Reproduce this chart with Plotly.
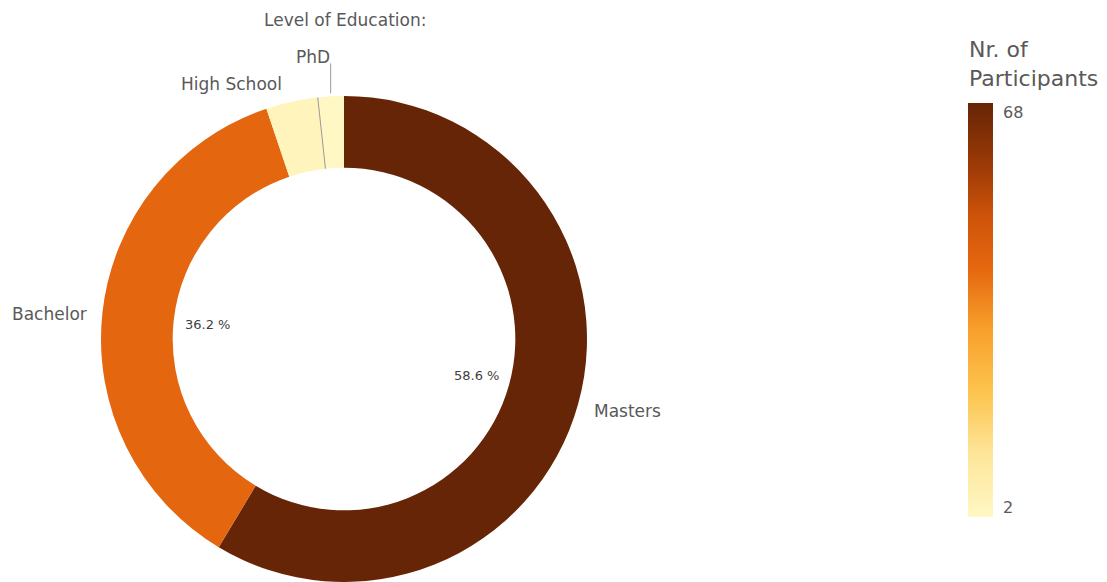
import math
import plotly.graph_objects as go
from plotly.colors import sample_colorscale

# Data
levels = ["Masters", "Bachelor", "High School", "PhD"]
participants = [68, 42, 4, 2]
pct_labelled = ["Masters", "Bachelor"]
legend_title = "Nr. of<br>Participants"
chart_title = "Level of Education:"

W, H = 1107, 582
CX, CY, R = 344, 339, 243          # donut centre / outer radius in pixels
HOLE = 0.705

CMIN, CMAX = min(participants), max(participants)
scale = [
    [0.00, "#fff7c4"], [0.15, "#fde69a"], [0.30, "#fdc44f"], [0.45, "#f8a12c"],
    [0.60, "#e5670f"], [0.72, "#d0550a"], [0.85, "#9c3a06"], [1.00, "#662506"],
]
slice_colors = sample_colorscale(scale, [(v - CMIN) / (CMAX - CMIN) for v in participants])

GREY = "#595959"
FONT = "DejaVu Sans"

total = sum(participants)


def px(x, y):
    return x / W, 1 - y / H


def polar(angle_deg, r):
    a = math.radians(angle_deg)
    return CX + r * math.sin(a), CY - r * math.cos(a)


# slice angles, clockwise from 12 o'clock
starts, mids, ends = [], [], []
acc = 0.0
for v in participants:
    s = acc / total * 360
    acc += v
    e = acc / total * 360
    starts.append(s); ends.append(e); mids.append((s + e) / 2)

fig = go.Figure()
fig.add_trace(go.Pie(
    labels=levels, values=participants, sort=False, direction="clockwise", rotation=0,
    hole=HOLE, textinfo="none", hoverinfo="label+value+percent",
    marker=dict(colors=slice_colors, line=dict(width=0)),
    domain=dict(x=[(CX - R) / W, (CX + R) / W], y=[0, 1 - (CY - R) / H]),
    showlegend=False,
))

# colour legend
fig.add_trace(go.Scatter(
    x=[None], y=[None], mode="markers", showlegend=False, hoverinfo="skip",
    marker=dict(color=[CMIN], cmin=CMIN, cmax=CMAX, colorscale=scale, showscale=True,
                colorbar=dict(x=968 / W, xanchor="left", y=1 - 310 / H, yanchor="middle",
                              lenmode="pixels", len=414, thickness=25, xpad=0, ypad=0,
                              outlinewidth=0, showticklabels=False, ticks="")),
))

annotations = []
shapes = []

for name, v, m in zip(levels, participants, mids):
    pct = v / total * 100
    if name in ("Masters", "Bachelor"):
        ox, oy = polar(m, R + 14)
        right = math.sin(math.radians(m)) > 0
        x, y = px(ox, oy + 3)
        annotations.append(dict(x=x, y=y, xref="paper", yref="paper", text=name, showarrow=False,
                                xanchor="left" if right else "right", yanchor="middle",
                                font=dict(family=FONT, size=17, color=GREY)))
    if name in pct_labelled:
        tx, ty = polar(m, 137)
        x, y = px(tx, ty)
        annotations.append(dict(x=x, y=y, xref="paper", yref="paper", text=f"{pct:.1f} %",
                                showarrow=False, xanchor="center", yanchor="middle",
                                font=dict(family=FONT, size=13, color="#404040")))

# small slices near the top: High School / PhD
hs, phd = levels.index("High School"), levels.index("PhD")
hx, hy = polar(mids[hs], R + 18)
x, y = px(hx - 4, hy)
annotations.append(dict(x=x, y=y, xref="paper", yref="paper", text=levels[hs], showarrow=False,
                        xanchor="right", yanchor="middle", font=dict(family=FONT, size=17, color=GREY)))

p0x, p0y = polar(mids[phd], R + 3)
p1x, p1y = polar(mids[phd], R + 33)
x0, y0 = px(p0x, p0y)
x1, y1 = px(p0x, p1y)
shapes.append(dict(type="line", xref="paper", yref="paper", x0=x0, y0=y0, x1=x1, y1=y1,
                   line=dict(color="#9a9a9a", width=1)))
x, y = px(p0x + 1, p1y - 6)
annotations.append(dict(x=x, y=y, xref="paper", yref="paper", text=levels[phd], showarrow=False,
                        xanchor="right", yanchor="middle", font=dict(family=FONT, size=17, color=GREY)))

# divider between High School and PhD
b0x, b0y = polar(ends[hs], R)
b1x, b1y = polar(ends[hs], R * HOLE)
x0, y0 = px(b0x, b0y)
x1, y1 = px(b1x, b1y)
shapes.append(dict(type="line", xref="paper", yref="paper", x0=x0, y0=y0, x1=x1, y1=y1,
                   line=dict(color="#9a9a9a", width=1)))

# heading
x, y = px(345, 20)
annotations.append(dict(x=x, y=y, xref="paper", yref="paper", text=chart_title, showarrow=False,
                        xanchor="center", yanchor="middle", font=dict(family=FONT, size=17, color=GREY)))

# legend title and end labels
x, y = px(967, 64)
annotations.append(dict(x=x, y=y, xref="paper", yref="paper", text=legend_title, showarrow=False,
                        xanchor="left", yanchor="middle", align="left",
                        font=dict(family=FONT, size=22, color=GREY)))
x, y = px(1001, 113)
annotations.append(dict(x=x, y=y, xref="paper", yref="paper", text=str(CMAX), showarrow=False,
                        xanchor="left", yanchor="middle", font=dict(family=FONT, size=16, color=GREY)))
x, y = px(1001, 507)
annotations.append(dict(x=x, y=y, xref="paper", yref="paper", text=str(CMIN), showarrow=False,
                        xanchor="left", yanchor="middle", font=dict(family=FONT, size=16, color=GREY)))

fig.update_layout(
    width=W, height=H, margin=dict(l=0, r=0, t=0, b=0),
    paper_bgcolor="white", plot_bgcolor="white",
    xaxis=dict(visible=False), yaxis=dict(visible=False),
    annotations=annotations, shapes=shapes,
)

fig.write_html("out.html")
